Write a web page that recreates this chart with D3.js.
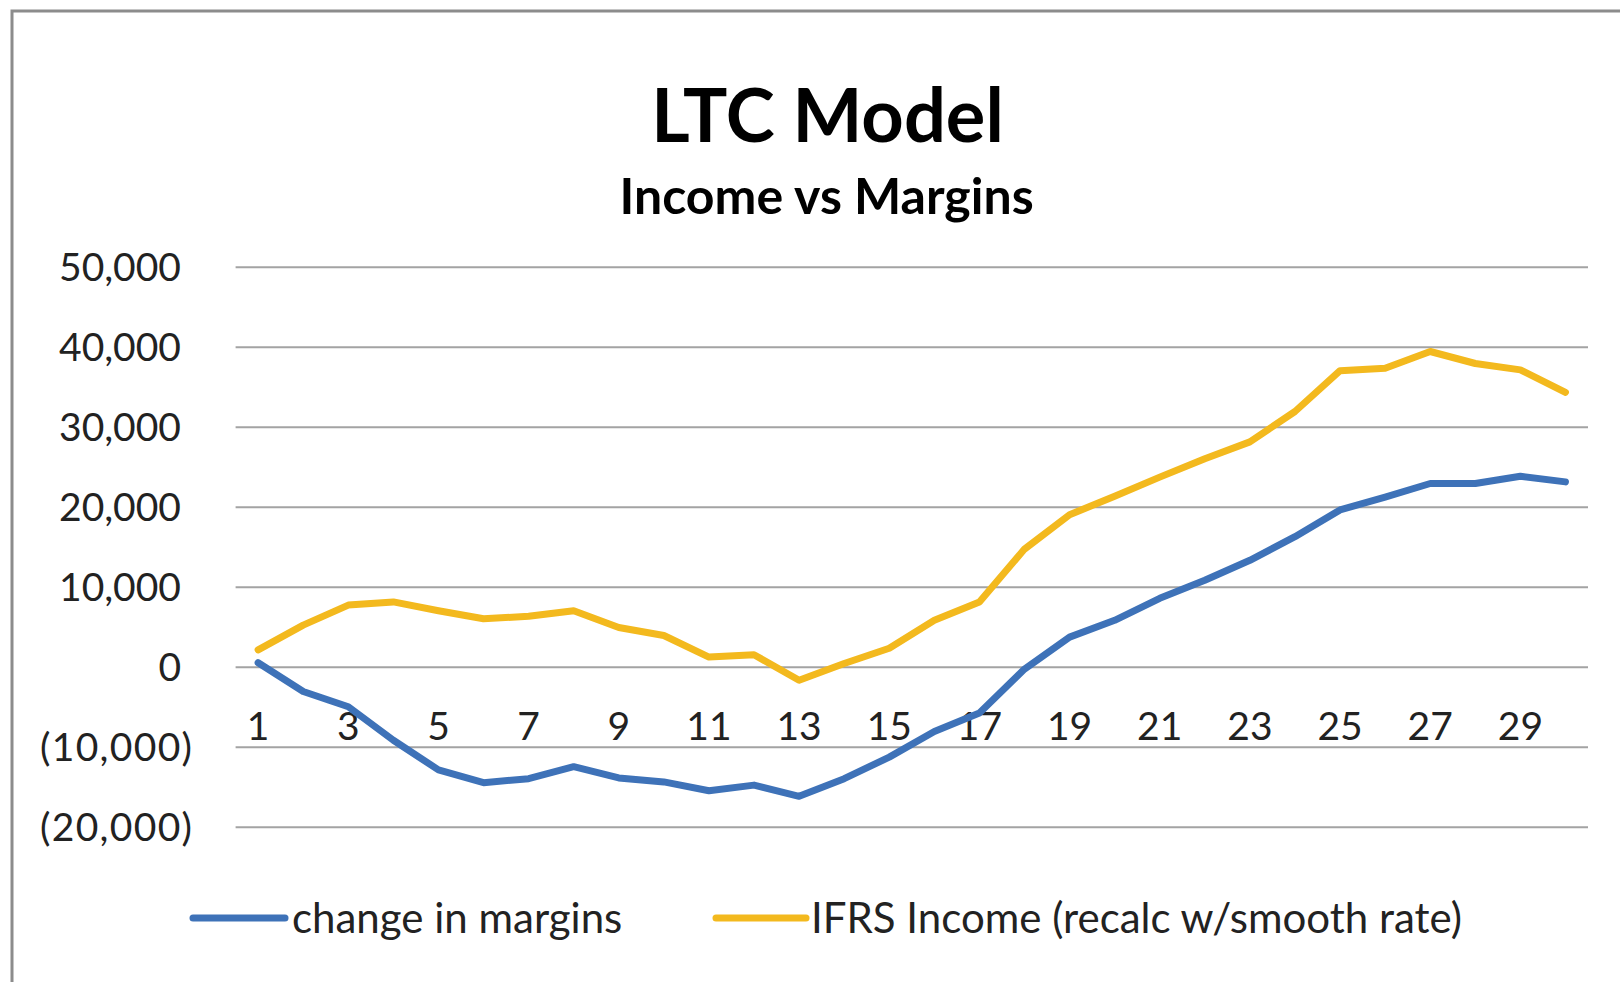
<!DOCTYPE html>
<html>
<head>
<meta charset="utf-8">
<script src="https://cdn.jsdelivr.net/npm/d3@7"></script>
<style>
  html, body { margin: 0; padding: 0; background: #ffffff; }
  svg { display: block; }
  text { font-family: Lato, "Open Sans", sans-serif; fill: #222; }
</style>
</head>
<body>
<svg id="chart" width="1620" height="982"></svg>
<script>
// ---- data ----
const categories = d3.range(1, 31);
const changeInMargins = [500, -3100, -5000, -9200, -12900, -14500, -14000, -12500, -13900, -14400,
  -15500, -14800, -16200, -14000, -11300, -8100, -5800, -300, 3700, 5800,
  8550, 10800, 13300, 16250, 19600, 21200, 22900, 22900, 23800, 23100];
const ifrsIncome = [2100, 5200, 7700, 8100, 7000, 6000, 6300, 7000, 4900, 3900,
  1200, 1500, -1700, 400, 2300, 5800, 8100, 14700, 19000, 21300,
  23700, 26000, 28100, 31900, 37000, 37300, 39400, 37900, 37100, 34300];
const yTicks = [-20000, -10000, 0, 10000, 20000, 30000, 40000, 50000];
const xTickLabels = categories.filter(d => d % 2 === 1);
const seriesNames = ["change in margins", "IFRS Income (recalc w/smooth rate)"];
const seriesColors = ["#3E72B8", "#F3B91E"];
const titleText = "LTC Model";
const subtitleText = "Income vs Margins";

// ---- layout ----
const svg = d3.select("#chart");
const plot = { left: 235.6, right: 1588, top: 266.7, bottom: 826.7 };

// frame
svg.append("rect")
  .attr("x", 12).attr("y", 11)
  .attr("width", 1700).attr("height", 1100)
  .attr("fill", "#ffffff")
  .attr("stroke", "#8c8c8c").attr("stroke-width", 3);

const x = d3.scaleBand().domain(categories).range([plot.left, plot.right]);
const xc = d => x(d) + x.bandwidth() / 2;
const y = d3.scaleLinear().domain([-20000, 50000]).range([plot.bottom, plot.top]);

// gridlines
const grid = svg.append("g")
  .attr("transform", `translate(${plot.left},0)`)
  .call(d3.axisLeft(y).tickValues(yTicks).tickSize(-(plot.right - plot.left)).tickFormat(""));
grid.select(".domain").remove();
grid.selectAll(".tick line").attr("stroke", "#a3a3a3").attr("stroke-width", 2);

// y labels (accounting format)
const fmt = d3.format(",");
svg.append("g").selectAll("text")
  .data(yTicks).join("text")
  .attr("x", d => d < 0 ? 192 : 181)
  .attr("y", d => y(d) + 14)
  .attr("text-anchor", "end")
  .attr("font-size", 39)
  .each(function (d) {
    if (d < 0) d3.select(this).attr("textLength", 152).attr("lengthAdjust", "spacing");
  })
  .text(d => d < 0 ? `(${fmt(-d)})` : fmt(d));

// x labels (at zero axis)
const xAxis = svg.append("g")
  .attr("transform", `translate(0,${y(0)})`)
  .call(d3.axisBottom(x).tickValues(xTickLabels).tickSize(0));
xAxis.select(".domain").remove();
xAxis.selectAll("text")
  .attr("y", 0).attr("dy", 0)
  .attr("transform", "translate(0,73.3)")
  .attr("font-size", 39)
  .attr("font-family", "Lato, sans-serif")
  .attr("fill", "#222");

// lines
const line = d3.line().x((d, i) => xc(categories[i])).y(d => y(d));
[changeInMargins, ifrsIncome].forEach((vals, k) => {
  svg.append("path")
    .datum(vals)
    .attr("fill", "none")
    .attr("stroke", seriesColors[k])
    .attr("stroke-width", 7)
    .attr("stroke-linejoin", "round")
    .attr("stroke-linecap", "round")
    .attr("d", line);
});

// titles
svg.append("text")
  .attr("x", 827.5).attr("y", 141.5)
  .attr("text-anchor", "middle")
  .attr("font-size", 74).attr("font-weight", "bold")
  .style("fill", "#000")
  .text(titleText);
svg.append("text")
  .attr("x", 826.6).attr("y", 213.5)
  .attr("text-anchor", "middle")
  .attr("font-size", 50).attr("font-weight", "bold")
  .style("fill", "#000")
  .text(subtitleText);

// legend
const legendItems = [
  { x0: 193, x1: 285, tx: 292 },
  { x0: 716, x1: 806, tx: 811 }
];
legendItems.forEach((it, k) => {
  svg.append("line")
    .attr("x1", it.x0).attr("x2", it.x1)
    .attr("y1", 918).attr("y2", 918)
    .attr("stroke", seriesColors[k]).attr("stroke-width", 7)
    .attr("stroke-linecap", "round");
  svg.append("text")
    .attr("x", it.tx).attr("y", 933)
    .attr("font-size", 42)
    .text(seriesNames[k]);
});
</script>
</body>
</html>
